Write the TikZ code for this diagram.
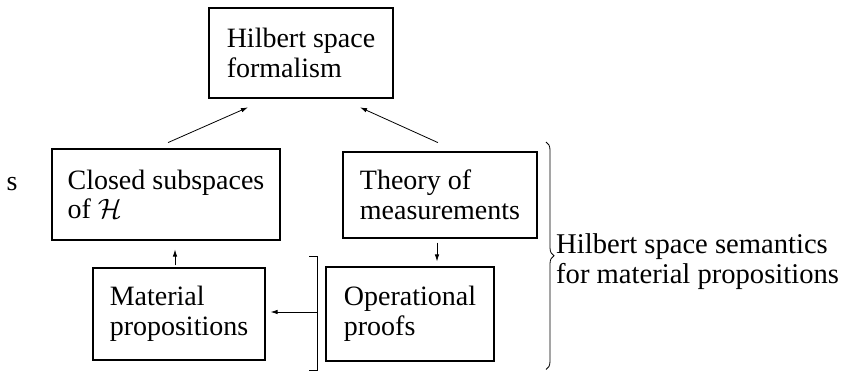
\RequirePackage{fix-cm}
\documentclass[tikz,border=0pt]{standalone}
\usepackage{fontspec}
\setmainfont{Liberation Serif}
\usetikzlibrary{arrows.meta,decorations.pathreplacing,calc}
\begin{document}
\begin{tikzpicture}[x=1pt,y=-1pt]
\tikzset{
  txt/.style={font=\fontsize{28}{29.5}\selectfont},
  box/.style={txt, draw, line width=1.1pt, align=left, inner sep=0pt},
  arr/.style={-{Latex[length=7pt,width=4.5pt]}, line width=0.8pt},
  thin/.style={line width=0.8pt},
}
\useasboundingbox (0,0) rectangle (844,371);

\node[box, minimum width=184pt, minimum height=90pt] (T) at (301,53) {Hilbert space\\formalism};
\node[box, minimum width=228pt, minimum height=91pt] (C) at (166,194.5) {Closed subspaces\\of $\mathcal{H}$};
\node[box, minimum width=194pt, minimum height=86pt] (M) at (440,195) {Theory of\\measurements};
\node[box, minimum width=172pt, minimum height=92pt] (P) at (179,314) {Material\\propositions};
\node[box, minimum width=168pt, minimum height=94pt] (O) at (410,314) {Operational\\proofs};

\node[txt, anchor=base, inner sep=0pt] (s) at (12,191) {s};
\node[txt, align=left, anchor=west, inner sep=0pt, font=\fontsize{28.6}{30}\selectfont] (L) at (556,262) {Hilbert space semantics\\for material propositions};

% arrows
\draw[arr, shorten <=14.6pt, shorten >=21.9pt] ([xshift=-11.3pt]C.north) -- ([xshift=-33pt]T.south);
\draw[arr, shorten <=21.5pt, shorten >=21.5pt] ([xshift=17.5pt]M.north) -- ([xshift=39.5pt]T.south);
\draw[arr, shorten <=2pt, shorten >=9pt] ([xshift=-4pt]P.north) -- ([xshift=-4pt]P.north |- C.south);
\draw[arr, shorten <=4pt, shorten >=5pt] ([xshift=-3pt]M.south) -- ([xshift=-3pt]M.south |- O.north);

% bracket left of operational proofs
\draw[thin] (309,256) -- (317,256) -- (317,370) -- (309,370);
\coordinate (bm) at (317,312);
\draw[arr, shorten >=5pt] (bm) -- (bm -| P.east);

% big brace
\draw[thin, decorate, decoration={brace, amplitude=8pt}] (546,142) -- (546,369.5);
\end{tikzpicture}
\end{document}
